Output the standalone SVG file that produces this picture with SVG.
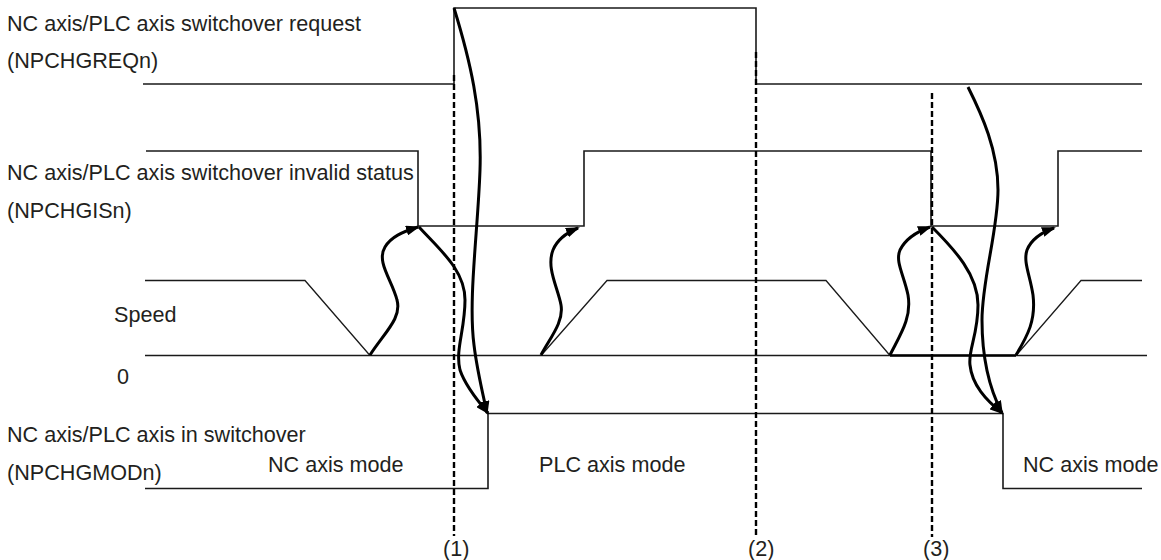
<svg xmlns="http://www.w3.org/2000/svg" width="1161" height="560" viewBox="0 0 1161 560">
<style>
.sig{fill:none;stroke:#1a1a1a;stroke-width:1.6}
.ramp{fill:none;stroke:#1a1a1a;stroke-width:1.3}
.dash{fill:none;stroke:#000;stroke-width:2.4;stroke-dasharray:6,3}
.arr{fill:none;stroke:#000;stroke-width:3;marker-end:url(#ah)}
text{font-family:"Liberation Sans",Arial,sans-serif;font-size:21.6px;fill:#231f20}
</style>
<defs>
<marker id="ah" viewBox="0 0 14 10" refX="12" refY="5" markerWidth="14" markerHeight="10" markerUnits="userSpaceOnUse" orient="auto">
<path d="M0,0 L14,5 L0,10 z" fill="#000"/>
</marker>
</defs>
<rect width="1161" height="560" fill="#fff"/>

<g id="sig-req">
<text x="7" y="30.5">NC axis/PLC axis switchover request</text>
<text x="7" y="68">(NPCHGREQn)</text>
<polyline class="sig" points="143,84 454,84 454,8 756,8 756,84 1142,84"/>
</g>

<g id="sig-gis">
<text x="7" y="180">NC axis/PLC axis switchover invalid status</text>
<text x="7" y="218">(NPCHGISn)</text>
<polyline class="sig" points="146,151 418,151 418,226 584,226 584,151 931,151 931,226 1058,226 1058,151 1142,151"/>
</g>

<g id="sig-speed">
<text x="114" y="322">Speed</text>
<text x="117" y="384">0</text>
<line class="sig" x1="145" y1="355.5" x2="1147" y2="355.5"/>
<line x1="890" y1="355.5" x2="1016" y2="355.5" stroke="#000" stroke-width="2.6"/>
<polyline class="ramp" points="145,280.5 305,280.5 370,355.5"/>
<polyline class="ramp" points="541,355.5 607,280.5 826,280.5 890,355.5"/>
<polyline class="ramp" points="1016,355.5 1081,280.5 1142,280.5"/>
</g>

<g id="sig-mod">
<text x="7" y="441.5">NC axis/PLC axis in switchover</text>
<text x="7" y="480">(NPCHGMODn)</text>
<text x="268" y="472">NC axis mode</text>
<text x="539" y="472">PLC axis mode</text>
<text x="1023" y="472">NC axis mode</text>
<polyline class="sig" points="145,488.5 488,488.5 488,413.5 1003,413.5 1003,488.5 1142,488.5"/>
</g>

<g id="timing-marks">
<line class="dash" x1="454" y1="75" x2="454" y2="536"/>
<line class="dash" x1="756" y1="52" x2="756" y2="536"/>
<line class="dash" x1="932" y1="93" x2="932" y2="537"/>
<text x="443" y="556">(1)</text>
<text x="748" y="556">(2)</text>
<text x="923" y="556">(3)</text>
</g>

<g id="connectors">
<path class="arr" d="M370,355 C385,332 402,318 397,300 C392,280 376,262 385,247 C391,237 402,232 418,227"/>
<path class="arr" d="M541,355 C550,338 564,322 561,305 C558,288 546,268 553,250 C557,240 566,233 578,228"/>
<path class="arr" d="M454,8 C470,60 482,110 480,170 C478,230 468,300 474,345 C477,370 482,390 487,413"/>
<path class="arr" d="M419,227 C440,250 465,270 465,300 C465,330 455,350 460,370 C465,385 476,399 488,413"/>
<path class="arr" d="M890,355 C900,335 912,318 908,295 C904,275 895,262 900,250 C905,240 916,232 930,227"/>
<path class="arr" d="M1016,355 C1028,335 1036,320 1033,295 C1030,275 1023,262 1027,250 C1031,240 1040,233 1054,228"/>
<path class="arr" d="M968,87 C982,115 998,150 998,190 C998,230 982,280 982,320 C982,360 990,390 1002,413"/>
<path class="arr" d="M932,227 C955,250 978,275 978,305 C978,335 968,350 970,365 C972,385 986,400 1002,413"/>
</g>
</svg>
